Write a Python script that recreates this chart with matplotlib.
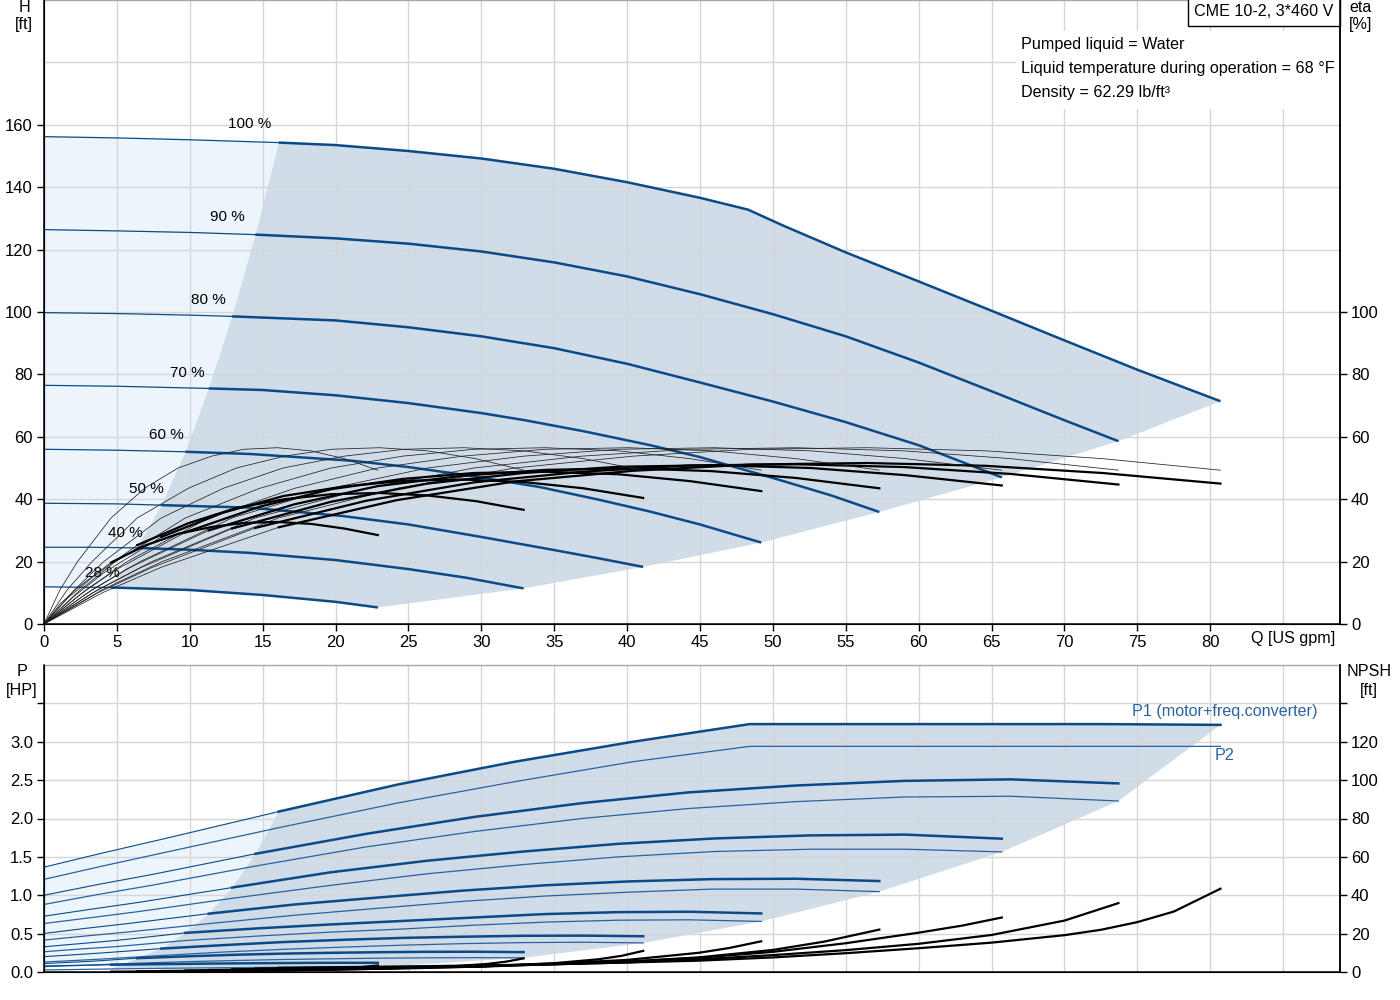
import numpy as np
import matplotlib.pyplot as plt
from matplotlib.patches import Rectangle

plt.rcParams['font.family'] = ['Liberation Sans', 'DejaVu Sans']

# ---- head curves H [ft] vs Q [US gpm] for each speed ----
speed_labels = ['100 %', '90 %', '80 %', '70 %', '60 %', '50 %', '40 %', '28 %']
q_min = [16.1, 14.5, 12.9, 11.3, 9.7, 8.05, 6.4, 4.6]

q_h100 = [0, 5, 10, 16.1, 20, 25, 30, 35, 40, 45, 48.3, 50.7, 55, 60, 65, 70, 75, 80.7]
h100 = [156.2, 155.8, 155.2, 154.3, 153.5, 151.6, 149.2, 145.9, 141.6, 136.6, 132.8, 127.7, 119.1, 109.8, 100.4, 90.9, 81.5, 71.4]
q_h90 = [0, 5, 10, 14.5, 20, 25, 30, 35, 40, 45, 50, 55, 60, 65, 70, 73.7]
h90 = [126.4, 126.0, 125.5, 124.8, 123.6, 121.9, 119.4, 115.9, 111.4, 105.7, 99.3, 92.2, 83.8, 74.6, 65.3, 58.6]
q_h80 = [0, 5, 10, 12.9, 20, 25, 30, 35, 40, 45, 50, 55, 60, 65.7]
h80 = [99.8, 99.5, 99.0, 98.6, 97.3, 95.1, 92.2, 88.4, 83.4, 77.4, 71.3, 64.7, 57.3, 47.0]
q_h70 = [0, 5, 11.3, 15, 20, 25, 30, 33, 37, 41.6, 45, 50, 54, 57.3]
h70 = [76.5, 76.2, 75.5, 75.0, 73.3, 70.8, 67.6, 65.3, 61.8, 57.3, 53.5, 46.8, 41.2, 35.9]
q_h60 = [0, 5, 9.7, 14.1, 21.2, 25, 29, 34, 38, 41.6, 45, 49.2]
h60 = [56.0, 55.7, 55.2, 54.5, 52.3, 50.3, 47.7, 43.9, 39.9, 36.0, 31.9, 26.1]
q_h50 = [0, 5, 8.05, 14.1, 20.5, 25, 30, 35, 38, 41.1]
h50 = [38.7, 38.5, 38.1, 37.3, 34.6, 31.9, 27.9, 23.7, 21.1, 18.3]
q_h40 = [0, 3, 6.4, 10, 14.1, 20, 25, 29, 32.9]
h40 = [24.6, 24.6, 24.4, 23.8, 22.8, 20.5, 17.6, 14.8, 11.4]
q_h28 = [0, 4.6, 10, 15, 20, 22.9]
h28 = [11.9, 11.7, 10.9, 9.3, 7.1, 5.3]

# ---- efficiency [%] and power [HP] on one flow grid per speed ----
q_e100 = [0, 4.0, 8.1, 16.1, 24.2, 32.3, 40.4, 48.4, 56.5, 64.6, 72.6, 80.7]
q_e90 = [0, 3.7, 7.4, 14.5, 22.1, 29.5, 36.9, 44.2, 51.6, 59.0, 66.3, 73.7]
q_e80 = [0, 3.3, 6.6, 12.9, 19.7, 26.3, 32.9, 39.4, 46.0, 52.6, 59.1, 65.7]
q_e70 = [0, 2.9, 5.7, 11.3, 17.2, 22.9, 28.7, 34.4, 40.1, 45.8, 51.6, 57.3]
q_e60 = [0, 2.5, 4.9, 9.7, 14.8, 19.7, 24.6, 29.5, 34.4, 39.4, 44.3, 49.2]
q_e50 = [0, 2.1, 4.1, 8.05, 12.3, 16.4, 20.6, 24.7, 28.8, 32.9, 37.0, 41.1]
q_e40 = [0, 1.6, 3.3, 6.4, 9.9, 13.2, 16.5, 19.7, 23.0, 26.3, 29.6, 32.9]
q_e28 = [0, 1.1, 2.3, 4.6, 6.9, 9.2, 11.5, 13.7, 16.0, 18.3, 20.6, 22.9]

eta_pump = [0, 11, 20, 34, 43.5, 50, 53.8, 56, 56.5, 55.5, 53, 49.3]

eta_t100 = [0, 10.0, 18.3, 31.0, 39.7, 45.7, 49.1, 51.1, 51.6, 50.7, 48.4, 45.0]
eta_t90 = [0, 10.0, 18.1, 30.8, 39.5, 45.4, 48.8, 50.8, 51.2, 50.3, 48.1, 44.7]
eta_t80 = [0, 9.9, 18.0, 30.6, 39.2, 45.0, 48.4, 50.4, 50.9, 50.0, 47.7, 44.4]
eta_t70 = [0, 9.7, 17.7, 30.0, 38.4, 44.2, 47.5, 49.4, 49.9, 49.0, 46.8, 43.5]
eta_t60 = [0, 9.5, 17.3, 29.4, 37.6, 43.2, 46.5, 48.4, 48.8, 48.0, 45.8, 42.6]
eta_t50 = [0, 9.0, 16.4, 27.9, 35.7, 41.0, 44.1, 45.9, 46.3, 45.5, 43.5, 40.4]
eta_t40 = [0, 8.2, 14.9, 25.3, 32.3, 37.2, 40.0, 41.6, 42.0, 41.2, 39.4, 36.6]
eta_t28 = [0, 6.4, 11.6, 19.7, 25.1, 28.9, 31.1, 32.4, 32.7, 32.1, 30.6, 28.5]

p1_100 = [1.366, 1.55, 1.73, 2.09, 2.44, 2.74, 3.0, 3.23, 3.23, 3.23, 3.23, 3.22]
p2_100 = [1.207, 1.38, 1.55, 1.88, 2.20, 2.48, 2.74, 2.94, 2.94, 2.94, 2.94, 2.94]
p1_90 = [1.0, 1.14, 1.27, 1.54, 1.80, 2.02, 2.20, 2.34, 2.43, 2.49, 2.51, 2.457]
p2_90 = [0.88, 1.01, 1.13, 1.38, 1.63, 1.83, 2.00, 2.13, 2.22, 2.28, 2.29, 2.228]
p1_80 = [0.727, 0.82, 0.91, 1.10, 1.30, 1.45, 1.57, 1.67, 1.74, 1.78, 1.79, 1.737]
p2_80 = [0.632, 0.71, 0.79, 0.96, 1.13, 1.28, 1.40, 1.50, 1.57, 1.60, 1.60, 1.565]
p1_70 = [0.502, 0.57, 0.63, 0.76, 0.88, 0.97, 1.06, 1.13, 1.18, 1.21, 1.215, 1.185]
p2_70 = [0.416, 0.47, 0.52, 0.63, 0.74, 0.83, 0.92, 0.99, 1.04, 1.08, 1.08, 1.047]
p1_60 = [0.329, 0.37, 0.41, 0.51, 0.57, 0.62, 0.665, 0.71, 0.755, 0.78, 0.785, 0.763]
p2_60 = [0.264, 0.30, 0.33, 0.41, 0.47, 0.52, 0.56, 0.61, 0.65, 0.675, 0.68, 0.659]
p1_50 = [0.20, 0.225, 0.25, 0.305, 0.35, 0.39, 0.42, 0.445, 0.46, 0.472, 0.474, 0.466]
p2_50 = [0.13, 0.15, 0.17, 0.215, 0.26, 0.295, 0.325, 0.35, 0.37, 0.383, 0.388, 0.379]
p1_40 = [0.11, 0.125, 0.14, 0.18, 0.205, 0.225, 0.24, 0.25, 0.258, 0.263, 0.264, 0.259]
p2_40 = [0.07, 0.08, 0.09, 0.115, 0.135, 0.15, 0.163, 0.172, 0.18, 0.185, 0.187, 0.185]
p1_28 = [0.08, 0.083, 0.087, 0.095, 0.10, 0.105, 0.11, 0.113, 0.116, 0.119, 0.12, 0.12]
p2_28 = [0.027, 0.03, 0.033, 0.04, 0.045, 0.05, 0.054, 0.058, 0.061, 0.063, 0.065, 0.065]

# ---- NPSH [ft] ----
q_n100 = [16.1, 25, 35, 44.9, 50, 55, 60, 65, 70, 72.5, 75, 77.5, 80.7]
n100 = [2.2, 2.9, 4.0, 5.9, 7.6, 9.8, 12.4, 15.3, 19.2, 22.0, 26.0, 31.5, 43.4]
q_n90 = [14.5, 22, 31, 40, 44.9, 50, 55, 60, 65, 70, 73.7]
n90 = [1.8, 2.4, 3.3, 5.0, 6.6, 8.8, 11.4, 14.7, 19.3, 26.8, 35.9]
q_n80 = [12.9, 20, 30, 40, 44.9, 50, 55, 60, 63, 65.7]
n80 = [1.4, 1.9, 3.0, 5.4, 7.4, 10.5, 15.0, 20.5, 24.2, 28.4]
q_n70 = [11.3, 20, 30, 40, 44.9, 50, 53.5, 57.3]
n70 = [1.1, 1.6, 2.8, 5.4, 7.6, 11.5, 15.8, 22.1]
q_n60 = [9.7, 20, 30, 35, 40, 44.9, 47, 49.2]
n60 = [0.8, 1.5, 3.0, 4.4, 6.3, 10.0, 12.5, 16.0]
q_n50 = [8.05, 15, 20, 25, 30, 35, 38, 39.6, 41.1]
n50 = [0.55, 0.9, 1.3, 1.9, 2.9, 4.6, 6.6, 8.4, 11.0]
q_n40 = [6.4, 12, 16, 20, 24, 28, 30.4, 31.7, 32.9]
n40 = [0.35, 0.6, 0.85, 1.25, 1.9, 2.95, 4.2, 5.4, 7.1]
q_n28 = [4.6, 8.4, 11.2, 14, 16.8, 19.6, 21.3, 22.9]
n28 = [0.17, 0.3, 0.42, 0.62, 0.95, 1.5, 2.2, 3.4]

h_curves = [(q_h100, h100), (q_h90, h90), (q_h80, h80), (q_h70, h70),
            (q_h60, h60), (q_h50, h50), (q_h40, h40), (q_h28, h28)]
q_e = [q_e100, q_e90, q_e80, q_e70, q_e60, q_e50, q_e40, q_e28]
eta_t = [eta_t100, eta_t90, eta_t80, eta_t70, eta_t60, eta_t50, eta_t40, eta_t28]
p1 = [p1_100, p1_90, p1_80, p1_70, p1_60, p1_50, p1_40, p1_28]
p2 = [p2_100, p2_90, p2_80, p2_70, p2_60, p2_50, p2_40, p2_28]
npsh = [(q_n100, n100), (q_n90, n90), (q_n80, n80), (q_n70, n70),
        (q_n60, n60), (q_n50, n50), (q_n40, n40), (q_n28, n28)]

label_q = [14.1, 12.6, 11.3, 9.8, 8.4, 7.0, 5.6, 4.0]
label_h = [160.3, 130.6, 104.0, 80.6, 60.5, 43.2, 29.1, 16.3]

BLUE = '#0b4a88'
BLUE2 = '#2a62a0'
DARK_FILL = '#d0dce8'
LIGHT_FILL = '#edf5fc'
GRID = '#d6d6d6'
FS = 11
FS_TXT = 11.6
FS_TICK = 12
XMAX = 88.9
IDX = 3  # start of the operating range on the eta/P grids

fig = plt.figure(figsize=(14, 10), dpi=100)
ax = fig.add_axes([44 / 1400, 376 / 1000, 1296 / 1400, 624 / 1000])
axb = fig.add_axes([44 / 1400, 28 / 1000, 1296 / 1400, 307 / 1000])


def style(a, ymax):
    a.set_xlim(0, XMAX)
    a.set_ylim(0, ymax)
    for s in ['left', 'bottom', 'right']:
        a.spines[s].set_color('black')
        a.spines[s].set_linewidth(1.1)
    a.spines['top'].set_color('#a8a8a8')
    a.spines['top'].set_linewidth(1.0)
    a.tick_params(direction='out', length=5, width=1, labelsize=FS_TICK, pad=3)


# ------------------------- top panel -------------------------
style(ax, 200)
for x in range(0, 90, 5):
    ax.axvline(x, color=GRID, lw=1, zorder=0.5)
for y in range(20, 200, 20):
    ax.axhline(y, color=GRID, lw=1, zorder=0.5)

# operating area fills
hq = [np.array(q) for q, h in h_curves]
hh = [np.array(h) for q, h in h_curves]
imin = [int(np.argmin(np.abs(q - m))) for q, m in zip(hq, q_min)]
qm_pts = np.array([q[i] for q, i in zip(hq, imin)])
hm_pts = np.array([h[i] for h, i in zip(hh, imin)])
dark_q = np.concatenate([hq[0][imin[0]:], [q[-1] for q in hq[1:]],
                         hq[7][imin[7]:][::-1], qm_pts[6:0:-1]])
dark_h = np.concatenate([hh[0][imin[0]:], [h[-1] for h in hh[1:]],
                         hh[7][imin[7]:][::-1], hm_pts[6:0:-1]])
ax.fill(dark_q, dark_h, color=DARK_FILL, lw=0, zorder=0.2)
light_q = np.concatenate([hq[0][:imin[0] + 1], qm_pts[1:], hq[7][:imin[7] + 1][::-1]])
light_h = np.concatenate([hh[0][:imin[0] + 1], hm_pts[1:], hh[7][:imin[7] + 1][::-1]])
ax.fill(light_q, light_h, color=LIGHT_FILL, lw=0, zorder=0.2)

for q, h, i in zip(hq, hh, imin):
    ax.plot(q[:i + 1], h[:i + 1], color=BLUE, lw=0.9, zorder=3)
    ax.plot(q[i:], h[i:], color=BLUE, lw=1.8, zorder=3, solid_capstyle='butt')

for lab, x, y in zip(speed_labels, label_q, label_h):
    ax.text(x, y, lab, ha='center', va='center', fontsize=FS, zorder=6)

axr = ax.twinx()
axr.set_ylim(0, 200)
axr.set_xlim(0, XMAX)
axr.spines['top'].set_visible(False)
axr.spines['right'].set_color('black')
axr.spines['right'].set_linewidth(1.1)
axr.tick_params(direction='out', length=5, width=1, labelsize=FS_TICK, pad=3)
axr.set_yticks(range(0, 101, 20))

for q, et in zip(q_e, eta_t):
    q = np.array(q)
    axr.plot(q, eta_pump, color='#222222', lw=0.55, zorder=2)
    axr.plot(q[:IDX + 1], et[:IDX + 1], color='#222222', lw=0.55, zorder=2)
    axr.plot(q[IDX:], et[IDX:], color='black', lw=1.6, zorder=2)

ax.set_xticks(range(0, 81, 5))
ax.set_yticks(range(0, 161, 20))

# info texts
ax.add_patch(Rectangle((66.7, 165.1), XMAX - 66.7, 25.0, fc='white', ec='none', zorder=0.8))
info_lines = ['Pumped liquid = Water',
              'Liquid temperature during operation = 68 \u00b0F',
              'Density = 62.29 lb/ft\u00b3']
for k, t in enumerate(info_lines):
    ax.text(67.03, 185.6 - 7.7 * k, t, ha='left', va='center', fontsize=FS_TXT, zorder=6)
ax.text(88.45, 196.2, 'CME 10-2, 3*460 V', ha='right', va='center', fontsize=FS_TXT, zorder=7,
        clip_on=False,
        bbox=dict(boxstyle='square,pad=0.4', fc='white', ec='black', lw=1))

fig.text(24 / 1400, 1 - 7 / 1000, 'H', ha='center', va='center', fontsize=FS_TXT)
fig.text(24 / 1400, 1 - 25 / 1000, '[ft]', ha='center', va='center', fontsize=FS_TXT)
fig.text(1361 / 1400, 1 - 7 / 1000, 'eta', ha='center', va='center', fontsize=FS_TXT)
fig.text(1361 / 1400, 1 - 25 / 1000, '[%]', ha='center', va='center', fontsize=FS_TXT)
fig.text(1251 / 1400, 1 - 639 / 1000, 'Q [US gpm]', ha='left', va='center', fontsize=FS_TXT)

# ------------------------- bottom panel -------------------------
style(axb, 4.0)
for x in range(0, 90, 5):
    axb.axvline(x, color=GRID, lw=1, zorder=0.5)
for y in np.arange(0.5, 4.0, 0.5):
    axb.axhline(y, color=GRID, lw=1, zorder=0.5)

pq = [np.array(q) for q in q_e]
pp1 = [np.array(v) for v in p1]
pp2 = [np.array(v) for v in p2]
pmin_q = np.array([q[IDX] for q in pq])
pmin_p = np.array([v[IDX] for v in pp1])
dq = np.concatenate([pq[0][IDX:], [q[-1] for q in pq[1:]], pq[7][IDX:][::-1], pmin_q[6:0:-1]])
dp = np.concatenate([pp1[0][IDX:], [v[-1] for v in pp2[1:]], pp2[7][IDX:][::-1], pmin_p[6:0:-1]])
axb.fill(dq, dp, color=DARK_FILL, lw=0, zorder=0.2)
lq = np.concatenate([pq[0][:IDX + 1], pmin_q[1:], pq[7][:IDX + 1][::-1]])
lp = np.concatenate([pp1[0][:IDX + 1], pmin_p[1:], pp1[7][:IDX + 1][::-1]])
axb.fill(lq, lp, color=LIGHT_FILL, lw=0, zorder=0.2)

for q, a, b in zip(pq, pp1, pp2):
    axb.plot(q, b, color=BLUE2, lw=0.9, zorder=3)
    axb.plot(q[:IDX + 1], a[:IDX + 1], color=BLUE, lw=0.8, zorder=3)
    axb.plot(q[IDX:], a[IDX:], color=BLUE, lw=1.8, zorder=3)

axb.text(74.65, 3.40, 'P1 (motor+freq.converter)', color=BLUE2, fontsize=FS_TXT,
         ha='left', va='center', zorder=6)
axb.text(80.3, 2.82, 'P2', color=BLUE2, fontsize=FS_TXT, ha='left', va='center', zorder=6)

axb.set_xticks(range(0, 90, 5))
axb.tick_params(axis='x', length=0, labelbottom=False)
axb.set_yticks(np.arange(0, 3.6, 0.5))
axb.set_yticklabels(['0.0', '0.5', '1.0', '1.5', '2.0', '2.5', '3.0', ''])

axbr = axb.twinx()
axbr.set_ylim(0, 160)
axbr.set_xlim(0, XMAX)
axbr.spines['top'].set_visible(False)
axbr.spines['right'].set_color('black')
axbr.spines['right'].set_linewidth(1.1)
axbr.tick_params(direction='out', length=5, width=1, labelsize=FS_TICK, pad=3)
axbr.set_yticks(range(0, 141, 20))
axbr.set_yticklabels([str(v) for v in range(0, 121, 20)] + [''])
for q, n in npsh:
    axbr.plot(q, n, color='black', lw=1.6, zorder=2)

fig.text(22 / 1400, 1 - 672 / 1000, 'P', ha='center', va='center', fontsize=FS_TXT)
fig.text(22 / 1400, 1 - 690 / 1000, '[HP]', ha='center', va='center', fontsize=FS_TXT)
fig.text(1369 / 1400, 1 - 672 / 1000, 'NPSH', ha='center', va='center', fontsize=FS_TXT)
fig.text(1369 / 1400, 1 - 690 / 1000, '[ft]', ha='center', va='center', fontsize=FS_TXT)

fig.savefig('out.png', dpi=100)
